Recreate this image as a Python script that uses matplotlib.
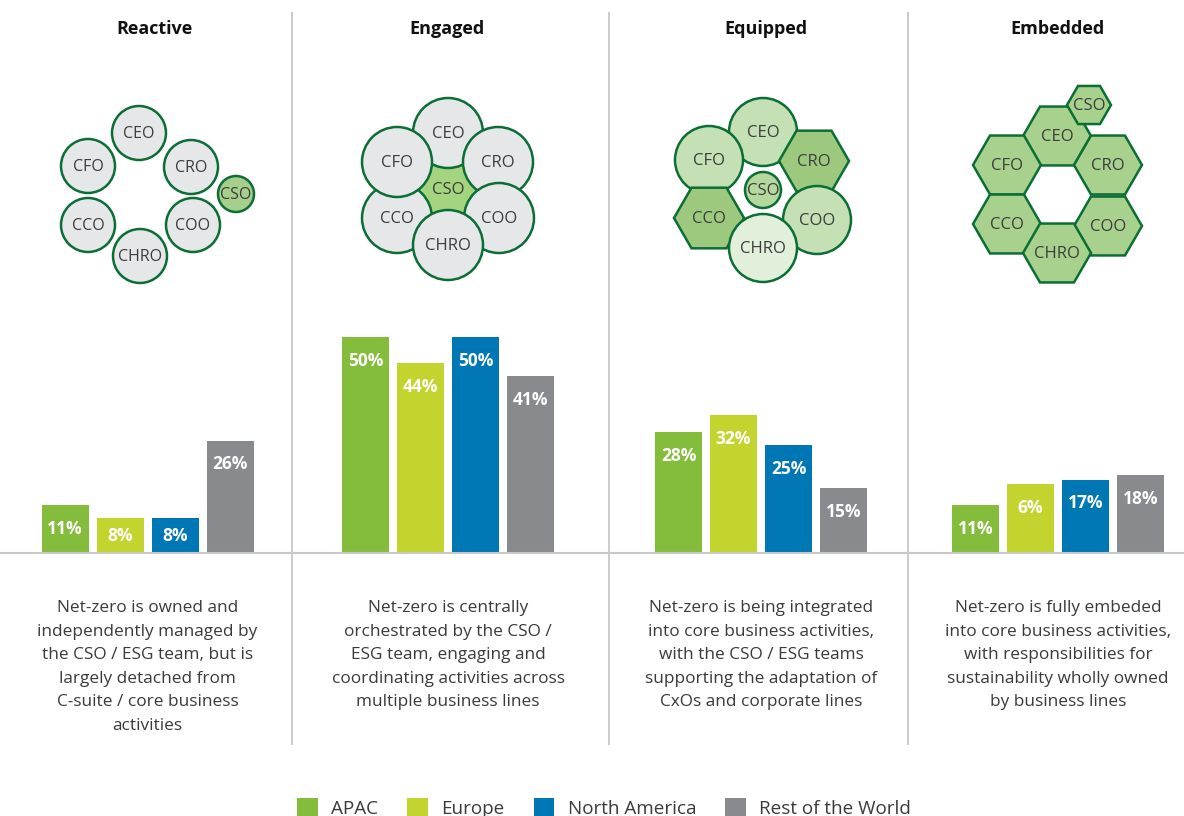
import matplotlib.pyplot as plt
from matplotlib.patches import Circle, RegularPolygon
import numpy as np

plt.rcParams['font.family'] = ['Open Sans', 'DejaVu Sans']

stages = ["Reactive", "Engaged", "Equipped", "Embedded"]
regions = ["APAC", "Europe", "North America", "Rest of the World"]
colors = ["#84bd3c", "#c4d42f", "#0077b5", "#898a8e"]

# bar heights as drawn, per region (one entry per stage)
apac = [11, 50, 28, 11]
europe = [8, 44, 32, 16]
north_america = [8, 50, 25, 17]
rest_world = [26, 41, 15, 18]
# labels printed on the bars (Europe / Embedded reads "6%" in the source)
apac_lbl = ["11%", "50%", "28%", "11%"]
europe_lbl = ["8%", "44%", "32%", "6%"]
north_america_lbl = ["8%", "50%", "25%", "17%"]
rest_world_lbl = ["26%", "41%", "15%", "18%"]

descriptions = [
    "Net-zero is owned and\nindependently managed by\nthe CSO / ESG team, but is\nlargely detached from\nC-suite / core business\nactivities",
    "Net-zero is centrally\norchestrated by the CSO /\nESG team, engaging and\ncoordinating activities across\nmultiple business lines",
    "Net-zero is being integrated\ninto core business activities,\nwith the CSO / ESG teams\nsupporting the adaptation of\nCxOs and corporate lines",
    "Net-zero is fully embeded\ninto core business activities,\nwith responsibilities for\nsustainability wholly owned\nby business lines",
]

W, H = 1184, 816
fig = plt.figure(figsize=(W / 100, H / 100), dpi=100)

# layout (pixels)
group_x = [147.5, 448, 761, 1058]
title_x = [155, 447, 766, 1057]
bar_step = 55
bar_w = 47
base_y = 553
px_per_pct = 4.32
ymax = 60

# ---- bars ----
ax = fig.add_axes([0, (H - base_y) / H, 1, ymax * px_per_pct / H])
ax.set_xlim(0, W)
ax.set_ylim(0, ymax)
ax.axis('off')

series = [apac, europe, north_america, rest_world]
labels = [apac_lbl, europe_lbl, north_america_lbl, rest_world_lbl]
handles = []
for i, (vals, lbls) in enumerate(zip(series, labels)):
    xs = np.array(group_x) + (i - 1.5) * bar_step
    b = ax.bar(xs, vals, width=bar_w, color=colors[i], label=regions[i])
    handles.append(b)
    for x, v, t in zip(xs, vals, lbls):
        off = 5.5 if v >= 12 else v / 2
        ax.text(x, v - off, t, ha='center', va='center', color='white',
                fontsize=12.5, fontweight='bold')
ax.axhline(0, color='#c8c8c8', lw=1.5, clip_on=False)

# ---- overlay for text, dividers and diagrams ----
ov = fig.add_axes([0, 0, 1, 1], zorder=3)
ov.set_xlim(0, W)
ov.set_ylim(H, 0)
ov.axis('off')
ov.patch.set_alpha(0)

ov.vlines([292, 609, 908], 12, 745, color='#c8c8c8', lw=1.3)

for x, t in zip(title_x, stages):
    ov.text(x, 29, t, ha='center', va='center', fontsize=13, fontweight='bold', color='#111111')

# description lines, placed one by one to get the reference line pitch
for x, t in zip(group_x, descriptions):
    for k, line in enumerate(t.split("\n")):
        ov.text(x, 608 + 23.6 * k, line, ha='center', va='center',
                fontsize=12.4, color='#3a3a3a')

edge = '#0b6e34'
grey_fill = '#e6e7e8'
txt_col = '#3c3c3c'


def circ(x, y, r, name, fc, fs=12):
    ov.add_patch(Circle((x, y), r, facecolor=fc, edgecolor=edge, lw=1.8))
    ov.text(x, y + 1, name, ha='center', va='center', fontsize=fs, color=txt_col)


def hexa(x, y, r, name, fc, fs=12):
    ov.add_patch(RegularPolygon((x, y), 6, radius=r, orientation=np.pi / 6,
                                facecolor=fc, edgecolor=edge, lw=1.8))
    ov.text(x, y + 1, name, ha='center', va='center', fontsize=fs, color=txt_col)


# Reactive
for (x, y, n) in [(139, 133, "CEO"), (88, 166, "CFO"), (191, 167, "CRO"),
                  (88, 225, "CCO"), (193, 225, "COO"), (140, 256, "CHRO")]:
    circ(x, y, 27, n, grey_fill, fs=11.5)
circ(236, 194, 18, "CSO", '#a5cf8a', fs=11.5)

# Engaged
hexa(448, 189, 36, "CSO", '#a5d47f')
for (x, y, n) in [(448, 133, "CEO"), (397, 218, "CCO"), (397, 162, "CFO"),
                  (498, 162, "CRO"), (499, 218, "COO"), (448, 245, "CHRO")]:
    circ(x, y, 35, n, grey_fill)

# Equipped
circ(763, 132, 34, "CEO", '#c5e0b4')
circ(709, 160, 34, "CFO", '#c5e0b4')
hexa(814, 161, 35, "CRO", '#9dc97f')
hexa(709, 218, 35, "CCO", '#9dc97f')
circ(763, 190, 18, "CSO", '#b5d89c')
circ(817, 220, 34, "COO", '#c5e0b4')
circ(763, 248, 34, "CHRO", '#e2efda')

# Embedded
for (x, y, n) in [(1057, 136, "CEO"), (1007, 165, "CFO"), (1108, 165, "CRO"),
                  (1007, 224, "CCO"), (1108, 226, "COO"), (1057, 253, "CHRO")]:
    hexa(x, y, 34, n, '#a9d18e')
hexa(1089, 105, 22, "CSO", '#a9d18e')

fig.legend(handles, regions, loc='center', bbox_to_anchor=(604 / W, (H - 808) / H),
           ncol=4, frameon=False, fontsize=13.6, handlelength=1.1, handleheight=1.1,
           columnspacing=1.55, handletextpad=0.7, labelcolor='#3a3a3a')

fig.savefig('out.png', dpi=100)
